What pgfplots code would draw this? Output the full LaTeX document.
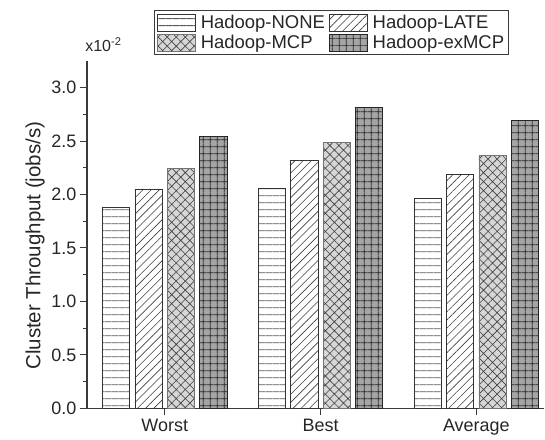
\documentclass[border=0pt]{standalone}
\usepackage{fontspec}
\setmainfont{Liberation Sans}
\usepackage{pgfplots}
\pgfplotsset{compat=1.18}
\usetikzlibrary{patterns.meta}
\definecolor{axgray}{HTML}{3A3A3A}
\definecolor{mcpfill}{HTML}{D6D6D6}
\definecolor{exfill}{HTML}{A5A5A5}
\begin{document}
\begin{tikzpicture}
\begin{axis}[
  scale only axis, width=458bp, height=348bp,
  clip=false,
  ybar, bar width=0.175,
  xmin=-0.5, xmax=2.436, ymin=0, ymax=3.25,
  axis x line=bottom, axis y line=left,
  axis line style={-, draw=axgray, line width=1.5bp},
  xtick={0,1,2}, xticklabels={Worst,Best,Average},
  ytick={0,0.5,1.0,1.5,2.0,2.5,3.0},
  minor y tick num=1,
  tick align=outside,
  major tick length=7bp, minor tick length=4bp,
  every tick/.style={draw=axgray, line width=1bp},
  yticklabel style={/pgf/number format/.cd, fixed, fixed zerofill, precision=1, assume math mode=true},
  ticklabel style={font=\fontsize{18bp}{20bp}\selectfont, text=black!85},
  ylabel={Cluster Throughput (jobs/s)},
  ylabel style={font=\fontsize{20.5bp}{24bp}\selectfont, text=black!85, at={(ticklabel cs:0.468)}},
  legend columns=2,
  legend cell align=left,
  legend style={at={(rel axis cs:0.535,1.017)}, anchor=south, draw=axgray, line width=0.8bp,
    font=\fontsize{18.5bp}{21bp}\selectfont, text=black!85, inner sep=2.5bp,
    /tikz/every odd column/.append style={column sep=3bp},
    /tikz/every even column/.append style={column sep=2bp}, row sep=1bp},
  legend image code/.code={\draw[#1] (0bp,-8.5bp) rectangle (38bp,8.5bp);},
]
\addplot[bar shift=-0.312, draw=black!80, line width=0.8bp, fill=white,
  postaction={pattern color=black!65, pattern={Lines[angle=0,distance=6.8bp,line width=0.8bp]}}]
  coordinates {(0,1.88) (1,2.06) (2,1.96)};
\addplot[bar shift=-0.104, draw=black!80, line width=0.8bp, fill=white,
  postaction={pattern color=black!75, pattern={Lines[angle=45,distance=5.8bp,line width=0.6bp]}}]
  coordinates {(0,2.05) (1,2.32) (2,2.185)};
\addplot[bar shift=0.104, draw=black!55, line width=0.8bp, fill=mcpfill,
  postaction={pattern color=black!75, pattern={Hatch[angle=45,distance=6.4bp,line width=0.6bp]}}]
  coordinates {(0,2.245) (1,2.49) (2,2.365)};
\addplot[bar shift=0.312, draw=black!85, line width=0.8bp, fill=exfill,
  postaction={pattern color=black!85, pattern={Hatch[angle=0,distance=6.8bp,line width=0.7bp]}}]
  coordinates {(0,2.54) (1,2.81) (2,2.69)};
\legend{Hadoop-NONE,Hadoop-LATE,Hadoop-MCP,Hadoop-exMCP}
\node[anchor=base west, inner sep=0pt, font=\fontsize{16bp}{18bp}\selectfont, text=black!85]
  at (rel axis cs:-0.004,1.026) {x10\textsuperscript{-2}};
\path (rel axis cs:-0.19,-0.089) (rel axis cs:1,1.175);
\end{axis}
\end{tikzpicture}
\end{document}
